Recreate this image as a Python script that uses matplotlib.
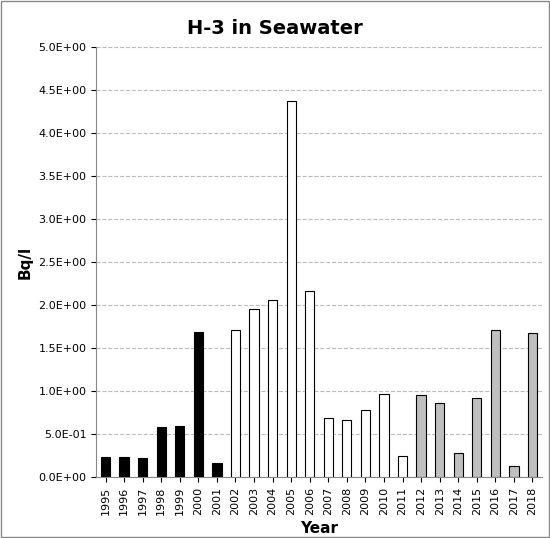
import matplotlib
matplotlib.use("Agg")
import matplotlib.pyplot as plt
from matplotlib.patches import Rectangle

years = [str(y) for y in range(1995, 2019)]
values = [0.24, 0.23, 0.22, 0.58, 0.59, 1.69, 0.16, 1.71, 1.95, 2.06, 4.37, 2.16,
          0.69, 0.67, 0.78, 0.97, 0.25, 0.96, 0.86, 0.28, 0.92, 1.71, 0.13, 1.67]
groups = ["black"] * 7 + ["white"] * 10 + ["#bfbfbf"] * 7

fig = plt.figure(figsize=(5.5, 5.38), dpi=100)
ax = fig.add_axes([0.175, 0.113, 0.81, 0.8])
x = range(len(years))
ax.bar(x, values, width=0.5, color=groups, edgecolor="black", linewidth=0.8, zorder=3)
ax.set_xlim(-0.5, len(years) - 0.5)
ax.set_ylim(0, 5.0)
ticks = [i * 0.5 for i in range(11)]
ax.set_yticks(ticks)
ax.set_yticklabels([f"{t:.1E}".replace("E+0", "E+0").replace("E-0", "E-0") for t in ticks], fontsize=8)
ax.set_xticks(list(x))
ax.set_xticklabels(years, rotation=90, fontsize=8)
ax.yaxis.grid(True, linestyle="--", color="#bbbbbb", linewidth=0.8, zorder=0)
for s in ["top", "right"]:
    ax.spines[s].set_visible(False)
ax.spines["left"].set_color("#888888")
ax.spines["bottom"].set_color("#888888")
ax.set_xlabel("Year", fontsize=11, fontweight="bold")
ax.set_ylabel("Bq/l", fontsize=11, fontweight="bold")
fig.suptitle("H-3 in Seawater", fontsize=14, fontweight="bold", y=0.965)
fig.patches.append(Rectangle((0.002, 0.002), 0.996, 0.996, transform=fig.transFigure,
                             fill=False, edgecolor="#888888", linewidth=1))
fig.savefig("out.png", dpi=100)
